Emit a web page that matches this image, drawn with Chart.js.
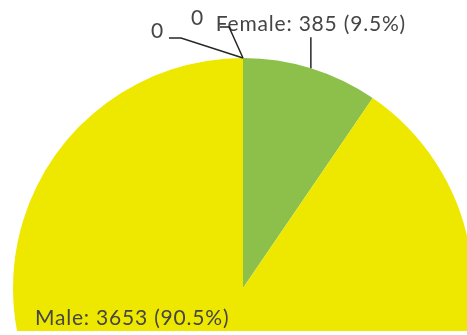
<!DOCTYPE html>
<html>
<head>
<meta charset="utf-8">
<script src="https://cdn.jsdelivr.net/npm/chart.js@4/dist/chart.umd.min.js"></script>
<style>
  html, body { margin: 0; padding: 0; background: #fff; }
  #frame { position: relative; width: 467px; height: 331px; overflow: hidden; background: #fff; }
  #wrap { position: absolute; left: 0; top: 0; width: 480px; height: 520px; }
</style>
</head>
<body>
<div id="frame"><div id="wrap"><canvas id="c"></canvas></div></div>
<script>
// Gender breakdown of respondents
const categories = ['Female', 'Male', 'Not stated', 'Unknown'];
const counts = [385, 3653, 0, 0];
const sliceColors = ['#8cc04a', '#eee800', '#4f81bd', '#c0504d'];

const total = counts.reduce((a, b) => a + b, 0);
function labelText(i) {
  const v = counts[i];
  if (v === 0) return '0';
  return categories[i] + ': ' + v + ' (' + (v / total * 100).toFixed(1) + '%)';
}

// Per-slice callout placement, relative to the slice's outer mid-point
// (or to the pie centre when fromCenter is set)
const callouts = [
  { line: [[0, -31]], text: [0, -37], align: 'center', base: 'alphabetic' },
  { line: null, text: [-208, 37], align: 'left', base: 'alphabetic', fromCenter: true },
  { line: [[-62, -20], [-74, -20]], text: [-79, -27], align: 'right', base: 'middle' },
  { line: [[-14, -31], [-23, -31]], text: [-39, -40], align: 'right', base: 'middle' }
];

const calloutPlugin = {
  id: 'callouts',
  afterDatasetsDraw(chart) {
    const ctx = chart.ctx;
    const meta = chart.getDatasetMeta(0);
    ctx.save();
    ctx.font = '21px Lato';
    if ('letterSpacing' in ctx) ctx.letterSpacing = '0.8px';
    ctx.fillStyle = '#454545';
    ctx.strokeStyle = '#262626';
    ctx.lineWidth = 1.5;
    meta.data.forEach((arc, i) => {
      const p = arc.getProps(['x', 'y', 'startAngle', 'endAngle', 'outerRadius'], true);
      const mid = (p.startAngle + p.endAngle) / 2;
      const ax = p.x + Math.cos(mid) * p.outerRadius;
      const ay = p.y + Math.sin(mid) * p.outerRadius;
      const c = callouts[i];
      const ox = c.fromCenter ? p.x : ax;
      const oy = c.fromCenter ? p.y : ay;
      if (c.line) {
        ctx.beginPath();
        ctx.moveTo(ax, ay);
        c.line.forEach(([dx, dy]) => ctx.lineTo(ax + dx, ay + dy));
        ctx.stroke();
      }
      ctx.textAlign = c.align;
      ctx.textBaseline = c.base;
      ctx.fillText(labelText(i), ox + c.text[0], oy + c.text[1]);
    });
    ctx.restore();
  }
};

new Chart(document.getElementById('c'), {
  type: 'pie',
  data: {
    labels: categories,
    datasets: [{
      data: counts,
      backgroundColor: sliceColors,
      borderWidth: 0,
      hoverOffset: 0
    }]
  },
  options: {
    responsive: true,
    maintainAspectRatio: false,
    animation: false,
    layout: { padding: { left: 13, right: 7, top: 58, bottom: 2 } },
    plugins: {
      legend: { display: false },
      tooltip: { enabled: false }
    }
  },
  plugins: [calloutPlugin]
});
</script>
</body>
</html>
